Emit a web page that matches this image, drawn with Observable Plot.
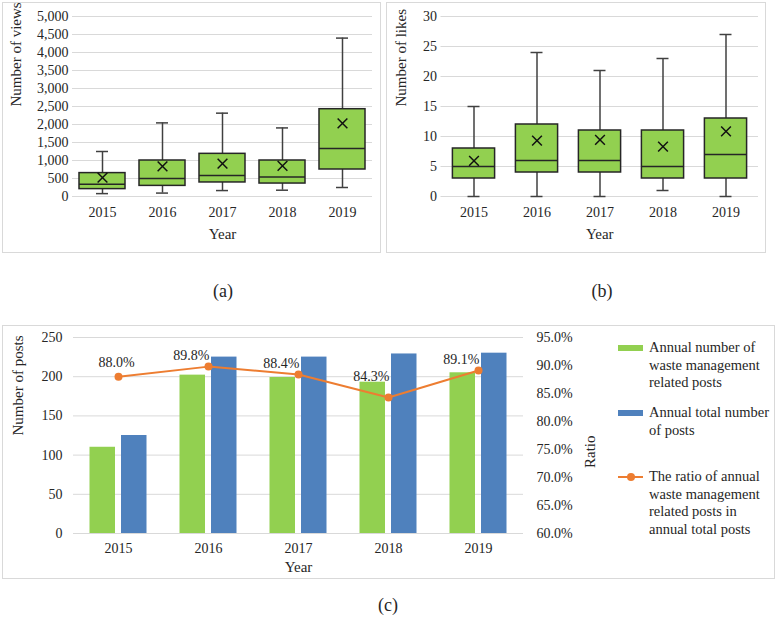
<!DOCTYPE html>
<html>
<head>
<meta charset="utf-8">
<script src="https://cdn.jsdelivr.net/npm/d3@7"></script>
<script src="https://cdn.jsdelivr.net/npm/@observablehq/plot@0.6"></script>
<style>
  html, body { margin: 0; padding: 0; background: #fff; }
  #root { position: relative; width: 777px; height: 618px; overflow: hidden;
          font-family: "Liberation Serif", "Times New Roman", serif; color: #262626; }
  .frame { position: absolute; border: 1px solid #d9d9d9; box-sizing: border-box; }
  .chart { position: absolute; }
  .cap { position: absolute; font-size: 18px; transform: translate(-50%, -50%); }
  .leg { position: absolute; font-size: 14.5px; line-height: 17.5px; left: 649px; }
  .sw { position: absolute; left: 618px; width: 25px; height: 6px; }
</style>
</head>
<body>
<div id="root">
  <div class="frame" style="left:2px;top:2px;width:379px;height:251px;"></div>
  <div class="frame" style="left:386px;top:2px;width:380px;height:251px;"></div>
  <div class="frame" style="left:2px;top:325px;width:773px;height:254px;"></div>
  <div class="chart" id="ca" style="left:0px;top:0px;"></div>
  <div class="chart" id="cb" style="left:385px;top:0px;"></div>
  <div class="chart" id="cc" style="left:0px;top:315px;"></div>
  <div class="cap" style="left:223px;top:291px;">(a)</div>
  <div class="cap" style="left:602px;top:291px;">(b)</div>
  <div class="cap" style="left:388px;top:605px;">(c)</div>
  <div id="legend"></div>
</div>
<script>
// ---------- data ----------
const years = ["2015", "2016", "2017", "2018", "2019"];

// (a) number of views
const viewsMin    = [80, 95, 165, 175, 250];
const viewsQ1     = [205, 295, 390, 360, 750];
const viewsMedian = [340, 500, 580, 540, 1330];
const viewsQ3     = [650, 1000, 1185, 1000, 2425];
const viewsMax    = [1250, 2045, 2315, 1905, 4400];
const viewsMean   = [525, 835, 915, 850, 2030];
const viewTicks   = [0, 500, 1000, 1500, 2000, 2500, 3000, 3500, 4000, 4500, 5000];

// (b) number of likes
const likesMin    = [0, 0, 0, 1, 0];
const likesQ1     = [3, 4, 4, 3, 3];
const likesMedian = [5, 6, 6, 5, 7];
const likesQ3     = [8, 12, 11, 11, 13];
const likesMax    = [15, 24, 21, 23, 27];
const likesMean   = [5.95, 9.3, 9.45, 8.3, 10.85];
const likeTicks   = [0, 5, 10, 15, 20, 25, 30];

// (c) posts
const relatedPosts = [110, 202, 199, 193, 205];
const totalPosts   = [125, 225, 225, 229, 230];
const ratioPct     = [88.0, 89.8, 88.4, 84.3, 89.1];
const postTicks    = [0, 50, 100, 150, 200, 250];
const ratioTicks   = [60, 65, 70, 75, 80, 85, 90, 95];

const legendLabels = [
  "Annual number of<br>waste management<br>related posts",
  "Annual total number<br>of posts",
  "The ratio of annual<br>waste management<br>related posts in<br>annual total posts"
];

// ---------- helpers ----------
const FONT = "'Liberation Serif', 'Times New Roman', serif";
const GREEN = "#92d050", BLUE = "#4f81bd", ORANGE = "#ed7d31";

function boxTable(mn, q1, md, q3, mx, mean) {
  return years.map((y, i) => ({year: y, min: mn[i], q1: q1[i], median: md[i], q3: q3[i], max: mx[i], mean: mean[i]}));
}

function boxChart({table, ticks, domain, fmt, width, marginLeft, marginRight, boxInset, capInset, yLabel, yLabelDx}) {
  return Plot.plot({
    width, height: 260,
    marginLeft, marginRight, marginTop: 16, marginBottom: 64,
    style: {fontFamily: FONT, fontSize: "14px", color: "#262626", background: "transparent", overflow: "visible"},
    x: {type: "band", domain: years, padding: 0},
    y: {domain},
    marks: [
      Plot.gridY(ticks, {stroke: "#d9d9d9", strokeOpacity: 1, strokeWidth: 1}),
      Plot.axisY(ticks, {tickSize: 0, tickPadding: 4, tickFormat: fmt, label: null}),
      Plot.axisX({tickSize: 0, tickPadding: 11, label: null}),
      Plot.ruleX(table, {x: "year", y1: "min", y2: "q1", stroke: "#404040", strokeWidth: 1.5}),
      Plot.ruleX(table, {x: "year", y1: "q3", y2: "max", stroke: "#404040", strokeWidth: 1.5}),
      Plot.tickY(table, {x: "year", y: "min", insetLeft: capInset, insetRight: capInset, stroke: "#404040", strokeWidth: 1.5}),
      Plot.tickY(table, {x: "year", y: "max", insetLeft: capInset, insetRight: capInset, stroke: "#404040", strokeWidth: 1.5}),
      Plot.barY(table, {x: "year", y1: "q1", y2: "q3", fill: GREEN, stroke: "#262626", strokeWidth: 1.5, insetLeft: boxInset, insetRight: boxInset}),
      Plot.tickY(table, {x: "year", y: "median", insetLeft: boxInset, insetRight: boxInset, stroke: "#262626", strokeWidth: 1.5}),
      Plot.dot(table, {x: "year", y: "mean", symbol: "times", r: 4.5, stroke: "#111", strokeWidth: 1.5}),
      Plot.text(["Year"], {text: d => d, frameAnchor: "bottom", dy: 42, fontSize: 15}),
      Plot.text([yLabel], {text: d => d, frameAnchor: "left", dx: yLabelDx, rotate: -90, fontSize: 15})
    ]
  });
}

// ---------- (a) ----------
document.getElementById("ca").appendChild(boxChart({
  table: boxTable(viewsMin, viewsQ1, viewsMedian, viewsQ3, viewsMax, viewsMean),
  ticks: viewTicks, domain: [0, 5000], fmt: d3.format(","),
  width: 386, marginLeft: 72, marginRight: 14, boxInset: 7, capInset: 24,
  yLabel: "Number of views", yLabelDx: -56
}));

// ---------- (b) ----------
document.getElementById("cb").appendChild(boxChart({
  table: boxTable(likesMin, likesQ1, likesMedian, likesQ3, likesMax, likesMean),
  ticks: likeTicks, domain: [0, 30], fmt: d => String(d),
  width: 392, marginLeft: 55.5, marginRight: 19, boxInset: 10.4, capInset: 25.5,
  yLabel: "Number of likes", yLabelDx: -39.5
}));

// ---------- (c) ----------
const toLeft = r => (r - 60) / 35 * 250;
const fromLeft = v => 60 + v / 250 * 35;
const posts = years.map((y, i) => ({year: y, related: relatedPosts[i], total: totalPosts[i], ratio: ratioPct[i]}));

const chartC = Plot.plot({
  width: 620, height: 280,
  marginLeft: 73, marginRight: 97, marginTop: 22, marginBottom: 62,
  style: {fontFamily: FONT, fontSize: "14px", color: "#262626", background: "transparent", overflow: "visible"},
  x: {type: "band", domain: years, padding: 0},
  y: {domain: [0, 250]},
  marks: [
    Plot.gridY(postTicks, {stroke: "#d9d9d9", strokeOpacity: 1, strokeWidth: 1}),
    Plot.axisY(postTicks, {tickSize: 0, tickPadding: 11, label: null}),
    Plot.axisY(ratioTicks.map(toLeft), {anchor: "right", tickSize: 0, tickPadding: 13, label: null,
      tickFormat: v => fromLeft(v).toFixed(1) + "%"}),
    Plot.axisX({tickSize: 0, tickPadding: 10, label: null}),
    Plot.barY(posts, {x: "year", y: "related", fill: GREEN, insetLeft: 16.5, insetRight: 48}),
    Plot.barY(posts, {x: "year", y: "total", fill: BLUE, insetLeft: 48, insetRight: 16.5}),
    Plot.line(posts, {x: "year", y: d => toLeft(d.ratio), stroke: ORANGE, strokeWidth: 2}),
    Plot.dot(posts, {x: "year", y: d => toLeft(d.ratio), fill: ORANGE, r: 4}),
    Plot.text(posts, {filter: (d, i) => i === 0, x: "year", y: d => toLeft(d.ratio),
      text: d => d.ratio.toFixed(1) + "%", dx: -2, dy: -14, fill: "#262626"}),
    Plot.text(posts, {filter: (d, i) => i > 0 && d.year !== "2018", x: "year", y: d => toLeft(d.ratio),
      text: d => d.ratio.toFixed(1) + "%", textAnchor: "end", dx: 1, dy: -11, fill: "#262626"}),
    Plot.text(posts, {filter: d => d.year === "2018", x: "year", y: d => toLeft(d.ratio),
      text: d => d.ratio.toFixed(1) + "%", textAnchor: "end", dx: 1, dy: -21, fill: "#262626"}),
    Plot.text(["Year"], {text: d => d, frameAnchor: "bottom", dy: 38, fontSize: 15}),
    Plot.text(["Number of posts"], {text: d => d, frameAnchor: "left", dx: -55, rotate: -90, fontSize: 15}),
    Plot.text(["Ratio"], {text: d => d, frameAnchor: "right", dx: 67, rotate: -90, fontSize: 15})
  ]
});
document.getElementById("cc").appendChild(chartC);

// ---------- legend (c) ----------
const leg = document.getElementById("legend");
const legTops = [339, 404, 468];
leg.innerHTML =
  `<div class="sw" style="top:345px;background:${GREEN};"></div>` +
  `<div class="leg" style="top:${legTops[0]}px;">${legendLabels[0]}</div>` +
  `<div class="sw" style="top:410px;background:${BLUE};"></div>` +
  `<div class="leg" style="top:${legTops[1]}px;">${legendLabels[1]}</div>` +
  `<div style="position:absolute;left:618px;top:476px;width:25px;height:2px;background:${ORANGE};"></div>` +
  `<div style="position:absolute;left:626.5px;top:473px;width:8px;height:8px;border-radius:50%;background:${ORANGE};"></div>` +
  `<div class="leg" style="top:${legTops[2]}px;">${legendLabels[2]}</div>`;
</script>
</body>
</html>
